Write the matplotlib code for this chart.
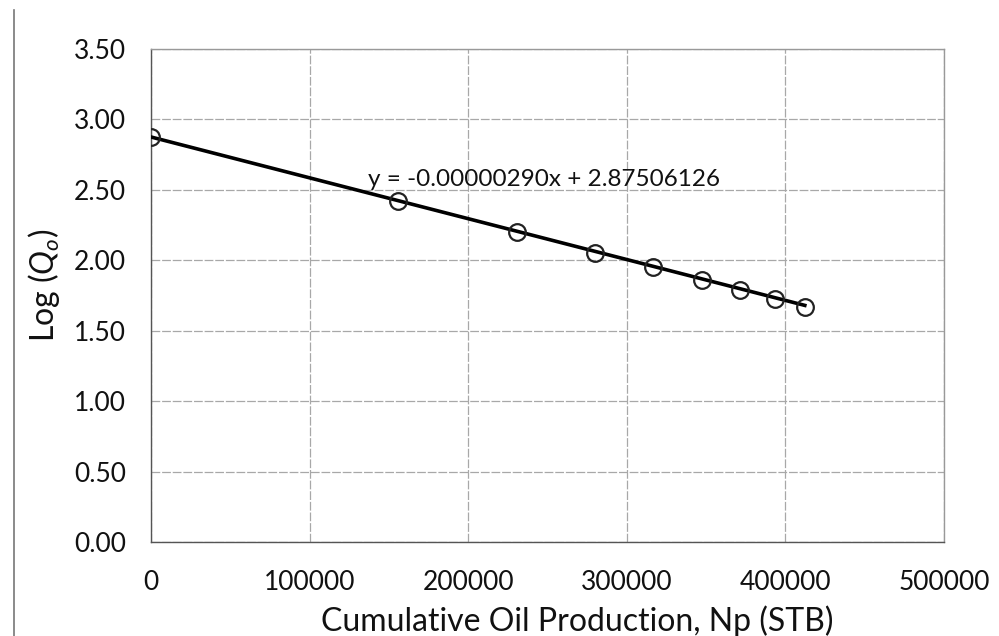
import numpy as np
import matplotlib
matplotlib.use('Agg')
import matplotlib.pyplot as plt

# data
np_cum = [0, 156000, 230500, 279700, 316300, 347200, 371200, 393300, 412200]
log_qo = [2.875, 2.42, 2.20, 2.05, 1.95, 1.86, 1.79, 1.725, 1.67]
slope = -0.00000290
intercept = 2.87506126
x_ticks = [0, 100000, 200000, 300000, 400000, 500000]
y_ticks = [0.0, 0.5, 1.0, 1.5, 2.0, 2.5, 3.0, 3.5]

plt.rcParams['font.family'] = ['Lato', 'DejaVu Sans']
plt.rcParams['mathtext.fontset'] = 'custom'
plt.rcParams['mathtext.rm'] = 'Lato'
plt.rcParams['mathtext.it'] = 'Lato:italic'

fig = plt.figure(figsize=(9.99, 6.36), dpi=100)
ax = fig.add_axes([0.1512, 0.1478, 0.7938, 0.7752])

xs = np.array([0, max(np_cum)])
ax.plot(xs, slope * xs + intercept, color='black', lw=2.6, zorder=3)
ax.plot(np_cum, log_qo, 'o', ms=12, mfc='none', mec='#222222', mew=1.6, zorder=4)

ax.text(137000, 2.57, 'y = -0.00000290x + 2.87506126', fontsize=17.5,
        va='center', ha='left', color='#111111')

ax.set_xlim(0, 500000)
ax.set_ylim(0, 3.5)
ax.set_xticks(x_ticks)
ax.set_yticks(y_ticks)
ax.set_xticklabels([str(t) for t in x_ticks])
ax.set_yticklabels(['%.2f' % t for t in y_ticks])
ax.tick_params(length=0, labelsize=19, colors='#111111')
ax.tick_params(axis='x', pad=20)
ax.tick_params(axis='y', pad=18)
ax.grid(True, color='#a8a8a8', lw=0.9, ls=(0, (7, 1.5)))
ax.set_axisbelow(True)
for s in ax.spines.values():
    s.set_color('#999999')
    s.set_linewidth(1.0)
ax.spines['left'].set_color('#555555')
ax.spines['bottom'].set_color('#555555')

ax.set_xlabel('Cumulative Oil Production, Np (STB)', fontsize=23, color='#111111', va='top')
ax.xaxis.set_label_coords(0.537, -0.128)
ax.set_ylabel(r'Log ($Q_o$)', fontsize=23, color='#111111')
ax.yaxis.set_label_coords(-0.112, 0.52)

# scanned chart border on the left
fig.add_artist(plt.Line2D([0.014, 0.014], [0.0, 0.985], color='#777777', lw=1.2))

fig.savefig('out.png', dpi=100)
